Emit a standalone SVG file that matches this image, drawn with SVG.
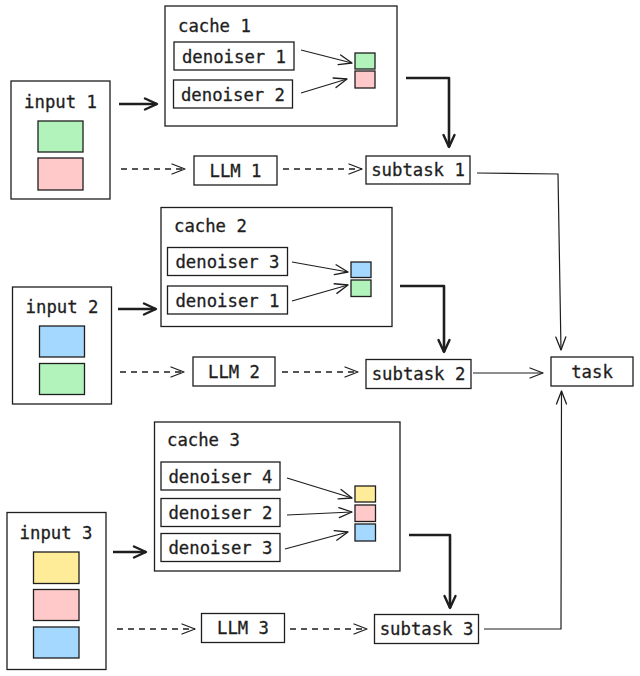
<svg xmlns="http://www.w3.org/2000/svg" width="640" height="676" viewBox="0 0 640 676">
<style>
.box{fill:#ffffff;stroke:#1e1e1e;stroke-width:1.3}
.t{font-family:"DejaVu Sans Mono","Liberation Mono",monospace;font-size:17.3px;fill:#1e1e1e;stroke:#1e1e1e;stroke-width:0.3}
.c{text-anchor:middle}
.g{fill:#b2f2bb;stroke:#1e1e1e;stroke-width:1.3}
.p{fill:#ffc9c9;stroke:#1e1e1e;stroke-width:1.3}
.b{fill:#a5d8ff;stroke:#1e1e1e;stroke-width:1.3}
.y{fill:#ffec99;stroke:#1e1e1e;stroke-width:1.3}
.thin{fill:none;stroke:#1e1e1e;stroke-width:1.2;marker-end:url(#ah)}
.dash{fill:none;stroke:#1e1e1e;stroke-width:1.4;stroke-dasharray:6 5;marker-end:url(#ah)}
.thick{fill:none;stroke:#1e1e1e;stroke-width:2.6;stroke-linejoin:round;marker-end:url(#ahT)}
</style>
<defs>
<marker id="ah" markerUnits="userSpaceOnUse" markerWidth="16" markerHeight="14" refX="14" refY="6" orient="auto">
<path d="M1,1 L14,6 L1,11" fill="none" stroke="#1e1e1e" stroke-width="1.3" stroke-linecap="round" stroke-linejoin="round"/>
</marker>
<marker id="ahT" markerUnits="userSpaceOnUse" markerWidth="16" markerHeight="16" refX="14" refY="7" orient="auto">
<path d="M2,1.5 L14,7 L2,12.5" fill="none" stroke="#1e1e1e" stroke-width="2.4" stroke-linecap="round" stroke-linejoin="round"/>
</marker>
</defs>

<g id="cache1">
<rect class="box" x="165" y="6" width="232" height="120"/>
<text class="t" x="178" y="32">cache 1</text>
<rect class="g" x="355" y="53" width="20" height="16"/>
<rect class="p" x="355" y="71" width="20" height="17"/>
</g>
<g id="c1-denoiser1"><rect class="box" x="174" y="42" width="120" height="28"/><text class="t c" x="234" y="62.5">denoiser 1</text></g>
<g id="c1-denoiser2"><rect class="box" x="173.5" y="80" width="119" height="28"/><text class="t c" x="233" y="100.5">denoiser 2</text></g>
<g id="input1">
<rect class="box" x="11" y="81" width="99" height="118"/>
<text class="t c" x="60.5" y="108">input 1</text>
<rect class="g" x="38" y="121" width="45" height="31"/>
<rect class="p" x="38" y="158" width="45" height="32"/>
</g>
<g id="llm1"><rect class="box" x="194" y="156" width="83" height="29"/><text class="t c" x="235.5" y="176.5">LLM 1</text></g>
<g id="subtask1"><rect class="box" x="366" y="156" width="104" height="28"/><text class="t c" x="418" y="176">subtask 1</text></g>

<g id="cache2">
<rect class="box" x="161" y="207.5" width="231" height="119"/>
<text class="t" x="174" y="232">cache 2</text>
<rect class="b" x="351" y="262" width="20" height="15.5"/>
<rect class="g" x="351" y="280" width="20" height="16.5"/>
</g>
<g id="c2-denoiser3"><rect class="box" x="167.5" y="247.5" width="120" height="28"/><text class="t c" x="227.5" y="268">denoiser 3</text></g>
<g id="c2-denoiser1"><rect class="box" x="167.5" y="286" width="120" height="28"/><text class="t c" x="227.5" y="306.5">denoiser 1</text></g>
<g id="input2">
<rect class="box" x="12.5" y="287" width="99" height="117"/>
<text class="t c" x="62" y="312.5">input 2</text>
<rect class="b" x="39.5" y="326" width="45" height="31"/>
<rect class="g" x="39.5" y="363.5" width="45" height="31"/>
</g>
<g id="llm2"><rect class="box" x="193" y="357" width="82" height="29"/><text class="t c" x="234" y="377.5">LLM 2</text></g>
<g id="subtask2"><rect class="box" x="366" y="359.5" width="105" height="29"/><text class="t c" x="418.5" y="380">subtask 2</text></g>
<g id="task"><rect class="box" x="551" y="357" width="82" height="29"/><text class="t c" x="592" y="377.5">task</text></g>

<g id="cache3">
<rect class="box" x="154.5" y="422" width="245.5" height="149"/>
<text class="t" x="167" y="446">cache 3</text>
<rect class="y" x="355" y="486" width="20.5" height="16"/>
<rect class="p" x="355" y="505" width="20.5" height="16.5"/>
<rect class="b" x="355" y="524" width="20.5" height="17"/>
</g>
<g id="c3-denoiser4"><rect class="box" x="161" y="462" width="119" height="28"/><text class="t c" x="220.5" y="482.5">denoiser 4</text></g>
<g id="c3-denoiser2"><rect class="box" x="161" y="498.5" width="119" height="28"/><text class="t c" x="220.5" y="519">denoiser 2</text></g>
<g id="c3-denoiser3"><rect class="box" x="161" y="533.5" width="119" height="28"/><text class="t c" x="220.5" y="554">denoiser 3</text></g>
<g id="input3">
<rect class="box" x="7" y="512.5" width="99" height="157"/>
<text class="t c" x="56" y="538.5">input 3</text>
<rect class="y" x="33.5" y="552" width="45.5" height="31.5"/>
<rect class="p" x="33.5" y="589.5" width="45.5" height="31"/>
<rect class="b" x="33.5" y="627" width="45.5" height="31"/>
</g>
<g id="llm3"><rect class="box" x="201.5" y="613.5" width="83" height="29"/><text class="t c" x="243" y="634">LLM 3</text></g>
<g id="subtask3"><rect class="box" x="374.5" y="614.5" width="104" height="29"/><text class="t c" x="426.5" y="635">subtask 3</text></g>

<g id="connectors">
<path class="thin" d="M301,50 L352,63"/>
<path class="thin" d="M301,93 L347,79"/>
<path class="thick" d="M119,104 L157,104"/>
<path class="dash" d="M121,169 L185,169"/>
<path class="dash" d="M283,169 L362,169"/>
<path class="thick" d="M406,78 L449,78 L449,147"/>
<path class="thin" d="M477,173 L558,174 L561,350"/>

<path class="thin" d="M292,262 L348,272"/>
<path class="thin" d="M292,301 L348,285"/>
<path class="thick" d="M118,309 L156,309"/>
<path class="dash" d="M120,372 L184,372"/>
<path class="dash" d="M282,372 L358,372"/>
<path class="thick" d="M400,286 L444,286 L444,352"/>
<path class="thin" d="M473,373 L543,373"/>

<path class="thin" d="M287,478 L352,498"/>
<path class="thin" d="M287,515 L352,512"/>
<path class="thin" d="M285,549 L348,532"/>
<path class="thick" d="M113,552 L146,552"/>
<path class="dash" d="M117,629 L195,629"/>
<path class="dash" d="M290,629 L367,629"/>
<path class="thick" d="M409,535 L450,535 L450,608"/>
<path class="thin" d="M484,629 L561,629 L561.5,391"/>
</g>
</svg>
